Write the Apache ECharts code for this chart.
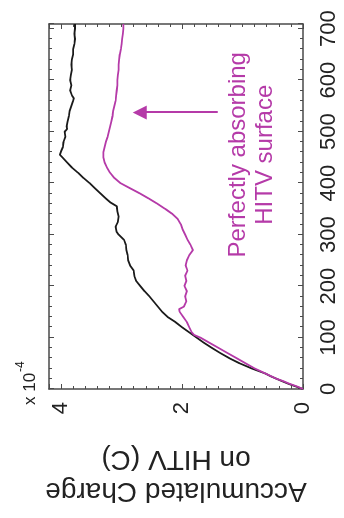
<!DOCTYPE html>
<html><head><meta charset="utf-8">
<script src="https://cdn.jsdelivr.net/npm/echarts@6/dist/echarts.min.js"></script>
<style>
html,body{margin:0;padding:0;background:#fff;overflow:hidden;width:344px;height:518px;}
#chart{position:absolute;left:0;top:0;width:518px;height:344px;transform-origin:0 0;transform:translate(0,518px) rotate(-90deg);}
</style></head><body><div id="chart"></div>
<script>
// Time axis (x in the original, unrotated chart)
const timeTickLabels = [0, 100, 200, 300, 400, 500, 600, 700];
// Charge axis (units of 1e-4 C)
const chargeTickLabels = [0, 2, 4];
const chargeExponentText = ['x 10', '-4'];
const chargeAxisTitle = ['Accumulated Charge', 'on HITV (C)'];

// Black curve
const timeBlack = [0,5,10,15,20,25,30,40,50,60,70,80,90,100,110,120,130,140,150,160,170,180,190,200,210,220,230,240,250,260,270,280,290,300,305,315,325,335,345,355,362,370,380,390,400,410,420,430,440,450,455,462,470,480,490,500,505,510,520,530,540,550,560,565,570,580,590,600,610,620,630,640,650,660,670,680,690,700,709];
const chargeBlack = [0,0.12,0.24,0.34,0.44,0.54,0.62,0.85,1.05,1.22,1.37,1.51,1.64,1.76,1.88,2.00,2.11,2.24,2.33,2.40,2.47,2.54,2.62,2.69,2.76,2.79,2.80,2.86,2.89,2.90,2.92,2.93,2.96,3.05,3.08,3.10,3.06,3.05,3.07,3.08,3.18,3.26,3.35,3.44,3.53,3.63,3.72,3.82,3.90,3.98,4.02,4.00,3.97,3.96,3.93,3.94,3.90,3.91,3.89,3.87,3.86,3.83,3.80,3.79,3.82,3.85,3.83,3.85,3.84,3.82,3.83,3.82,3.80,3.80,3.78,3.77,3.78,3.77,3.77];

// Magenta curve (perfectly absorbing HITV surface)
const timeMagenta = [0,5,10,15,20,30,40,50,60,70,80,90,100,105,110,120,130,140,150,155,160,170,180,190,200,210,220,230,240,250,260,270,280,290,300,310,320,330,340,350,360,370,380,390,400,410,420,430,440,450,460,470,480,490,500,510,520,530,540,550,560,570,580,590,600,610,620,630,640,650,660,670,680,690,700,709];
const chargeMagenta = [0,0.10,0.22,0.32,0.44,0.62,0.80,0.95,1.10,1.25,1.40,1.55,1.70,1.80,1.84,1.88,1.92,1.98,2.04,2.05,1.97,1.93,1.95,1.92,1.96,1.93,1.95,1.91,1.94,1.92,1.88,1.82,1.86,1.91,1.95,1.99,2.02,2.07,2.16,2.28,2.41,2.55,2.70,2.86,3.02,3.12,3.19,3.24,3.28,3.30,3.30,3.28,3.26,3.23,3.21,3.19,3.17,3.15,3.14,3.12,3.10,3.09,3.08,3.07,3.07,3.06,3.05,3.05,3.04,3.03,3.01,3.00,2.99,2.98,2.97,2.97];

// Annotation arrow and text (data coordinates)
const arrowTime = 537;
const arrowCharge = [1.41, 2.70];
const annotationText = ['Perfectly absorbing', 'HITV surface'];
const annotationAt = [455, 0.84];

const FONT = "'Liberation Sans', Arial, Helvetica, sans-serif";
const MAGENTA = '#b53aa8';
const FRAME = '#4a4a4a';

const chart = echarts.init(document.getElementById('chart'), null, {renderer: 'canvas'});

function frameAxis(extra) {
  return Object.assign({
    type: 'value',
    axisLine: {show: true, onZero: false, lineStyle: {color: FRAME, width: 1.5}},
    axisTick: {show: true, inside: true, length: 5, lineStyle: {color: FRAME, width: 1}},
    minorTick: {show: true, inside: true, length: 3, lineStyle: {color: FRAME, width: 1}},
    splitLine: {show: false},
    minorSplitLine: {show: false}
  }, extra);
}

const labelStyle = {fontSize: 22, color: '#222', fontFamily: FONT};

chart.setOption({
  animation: false,
  backgroundColor: '#fff',
  grid: {left: 129, right: 24, top: 49, bottom: 41, containLabel: false},
  xAxis: [
    frameAxis({min: 0, max: 709, interval: 100, position: 'bottom',
      minorTick: {show: true, splitNumber: 5, length: 3, lineStyle: {color: FRAME, width: 1}},
      axisLabel: Object.assign({margin: 15, formatter: v => timeTickLabels.includes(v) ? String(v) : ''}, labelStyle)}),
    frameAxis({min: 0, max: 709, interval: 100, position: 'top',
      minorTick: {show: true, splitNumber: 5, length: 3, lineStyle: {color: FRAME, width: 1}},
      axisLabel: {show: false}})
  ],
  yAxis: [
    frameAxis({min: 0, max: 4.2, interval: 2, position: 'left',
      minorTick: {show: true, splitNumber: 10, length: 3, lineStyle: {color: FRAME, width: 1}},
      axisLabel: Object.assign({margin: 13, formatter: v => chargeTickLabels.includes(v) ? String(v) : ''}, labelStyle),
      name: chargeAxisTitle.join('\n'), nameLocation: 'middle', nameRotate: 90, nameGap: 54,
      nameTextStyle: {fontSize: 28, lineHeight: 32, color: '#222', fontFamily: FONT, align: 'center'}}),
    frameAxis({min: 0, max: 4.2, interval: 2, position: 'right',
      minorTick: {show: true, splitNumber: 10, length: 3, lineStyle: {color: FRAME, width: 1}},
      axisLabel: {show: false}})
  ],
  graphic: [
    {type: 'text', left: 113, top: 22, style: {text: chargeExponentText[0], fontSize: 17, fill: '#222', fontFamily: FONT}},
    {type: 'text', left: 146, top: 15, style: {text: chargeExponentText[1], fontSize: 12, fill: '#222', fontFamily: FONT}}
  ],
  series: [
    {
      type: 'line', xAxisIndex: 0, yAxisIndex: 0, showSymbol: false, silent: true,
      data: timeBlack.map((t, i) => [t, chargeBlack[i]]),
      lineStyle: {color: '#1a1a1a', width: 1.8}, itemStyle: {color: '#1a1a1a'}, z: 3
    },
    {
      type: 'line', xAxisIndex: 0, yAxisIndex: 0, showSymbol: false, silent: true,
      data: timeMagenta.map((t, i) => [t, chargeMagenta[i]]),
      lineStyle: {color: MAGENTA, width: 1.8}, itemStyle: {color: MAGENTA}, z: 4,
      markLine: {
        silent: true, animation: false,
        symbol: ['none', 'triangle'], symbolSize: [14, 14],
        label: {show: false},
        lineStyle: {color: MAGENTA, width: 2, type: 'solid'},
        data: [[{coord: [arrowTime, arrowCharge[0]]}, {coord: [arrowTime, arrowCharge[1]]}]]
      },
      markPoint: {
        silent: true, animation: false,
        symbol: 'circle', symbolSize: 1, itemStyle: {color: 'rgba(0,0,0,0)'},
        data: [{coord: annotationAt}],
        label: {show: true, position: 'inside', formatter: annotationText.join('\n'),
          fontSize: 24, lineHeight: 27, color: MAGENTA, fontFamily: FONT, align: 'center', verticalAlign: 'middle'}
      }
    }
  ]
});
</script>
</body></html>
